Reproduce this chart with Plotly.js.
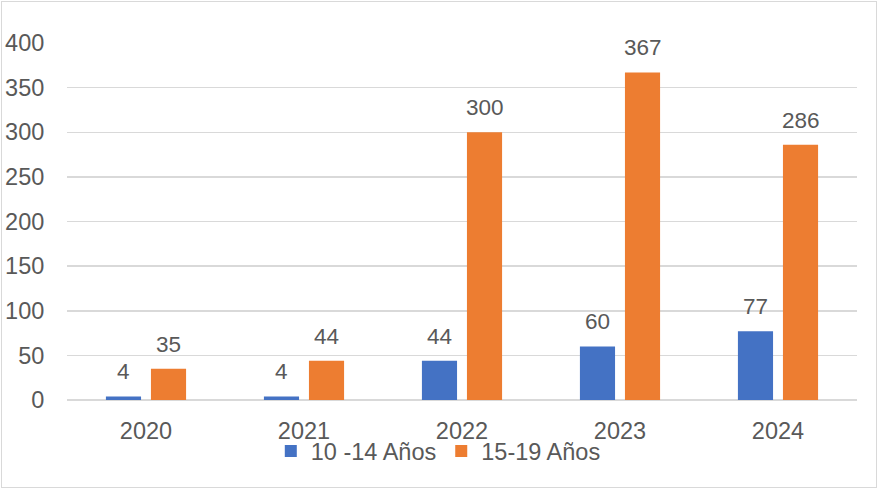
<!DOCTYPE html>
<html>
<head>
<meta charset="utf-8">
<script src="https://cdn.plot.ly/plotly-3.0.1.min.js"></script>
<style>
  html, body { margin: 0; padding: 0; background: #ffffff; }
  #wrap { position: absolute; left: 1px; top: 1px; width: 874px; height: 485px; border: 1px solid #d9d9d9; }
  #chart { position: absolute; left: -2px; top: -2px; width: 878px; height: 489px; }
</style>
</head>
<body>
<div id="wrap"><div id="chart"></div></div>
<script>
const years = ['2020', '2021', '2022', '2023', '2024'];
const group1Name = '10 -14 Años';
const group2Name = '15-19 Años';
const group1 = [4, 4, 44, 60, 77];
const group2 = [35, 44, 300, 367, 286];
const yTicks = [0, 50, 100, 150, 200, 250, 300, 350, 400];

const BLUE = '#4472C4';
const ORANGE = '#ED7D31';
const TEXT = '#595959';
const FONT = 'Liberation Sans, Arial, sans-serif';
const AXFS = 23.5;
const LBLFS = 22.5;
const bargap = 0.43;
const off = (1 - bargap) / 4;

const traces = [
  { type: 'bar', name: group1Name, x: years, y: group1, marker: { color: BLUE }, hoverinfo: 'x+y' },
  { type: 'bar', name: group2Name, x: years, y: group2, marker: { color: ORANGE }, hoverinfo: 'x+y' }
];

const annotations = [];
years.forEach((yr, i) => {
  annotations.push({ x: i - off, y: group1[i], xref: 'x', yref: 'y', text: String(group1[i]),
    showarrow: false, yanchor: 'bottom', yshift: 10, font: { family: FONT, size: LBLFS, color: TEXT } });
  annotations.push({ x: i + off, y: group2[i], xref: 'x', yref: 'y', text: String(group2[i]),
    showarrow: false, yanchor: 'bottom', yshift: 10, font: { family: FONT, size: LBLFS, color: TEXT } });
});

const layout = {
  width: 878, height: 489,
  margin: { l: 67, r: 21, t: 43, b: 89, autoexpand: false },
  paper_bgcolor: 'rgba(0,0,0,0)', plot_bgcolor: '#ffffff',
  barmode: 'group', bargap: bargap, bargroupgap: 0.22,
  font: { family: FONT, size: AXFS, color: TEXT },
  showlegend: true,
  legend: { orientation: 'h', x: 0.47, xanchor: 'center', y: -0.082, yanchor: 'top',
    font: { family: FONT, size: AXFS, color: TEXT }, traceorder: 'normal' },
  xaxis: { type: 'category', showgrid: false, showline: false, zeroline: false, automargin: false,
    ticks: 'outside', ticklen: 10, tickcolor: 'rgba(0,0,0,0)',
    tickfont: { family: FONT, size: AXFS, color: TEXT } },
  yaxis: { range: [0, 400], tickvals: yTicks, showgrid: true, gridcolor: '#d9d9d9', gridwidth: 1.5,
    zeroline: true, zerolinecolor: '#d9d9d9', zerolinewidth: 1.5, showline: false, automargin: false,
    ticks: 'outside', ticklen: 17, tickcolor: 'rgba(0,0,0,0)',
    tickfont: { family: FONT, size: AXFS, color: TEXT } },
  annotations: annotations
};

Plotly.newPlot('chart', traces, layout, { displayModeBar: false, staticPlot: true });
</script>
</body>
</html>
